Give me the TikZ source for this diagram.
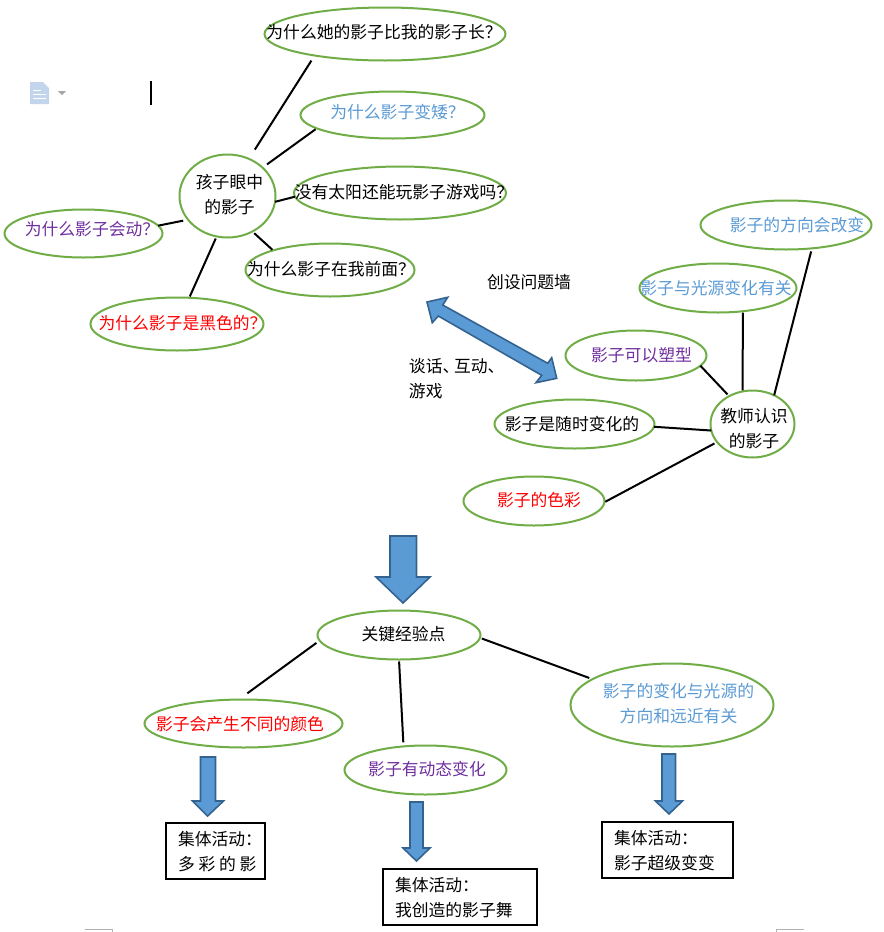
\documentclass[tikz,border=0pt]{standalone}
\usepackage{fontspec}
\setmainfont{Noto Sans CJK SC}
\usetikzlibrary{shapes.geometric}
\definecolor{ovalgreen}{HTML}{70AD47}
\definecolor{skyblue}{HTML}{5B9BD5}
\definecolor{arrowedge}{HTML}{35638F}
\definecolor{violetink}{HTML}{7030A0}
\definecolor{pure}{HTML}{FF0000}
\definecolor{iconblue}{HTML}{C3D5EC}
\tikzset{
  oval/.style={ellipse,draw=ovalgreen,line width=1.5pt,inner sep=0pt,outer sep=0pt},
  actbox/.style={rectangle,draw=black,line width=1.5pt,inner sep=0pt,outer sep=0pt},
  lbl/.style={font=\fontsize{12.6pt}{18.75pt}\selectfont,inner sep=0pt},
  lnk/.style={draw=black,line width=1.5pt},
  blockarrow/.style={fill=skyblue,draw=arrowedge,line width=1.2pt,line join=miter}
}
% name, cx, cy, w, h, text x, text y, colour, text
\newcommand\ovalnode[9]{\node[oval,minimum width=(#4-1)*0.75pt,minimum height=(#5-1)*0.75pt,
  label={[lbl,align=center,text=#8,xshift=(#6-#2)*0.75pt,yshift=(#3-#7)*0.75pt]center:{#9}}] (#1) at (#2,#3) {};}
\newcommand\boxnode[8]{\node[actbox,minimum width=(#4-2)*0.75pt,minimum height=(#5-2)*0.75pt,
  label={[lbl,align=left,xshift=(#6-#2)*0.75pt,yshift=(#3-#7)*0.75pt]center:{#8}}] (#1) at (#2,#3) {};}
\newcommand\lnkdraw[4]{\draw[lnk,shorten <=#2*0.75pt,shorten >=#4*0.75pt] (#1) -- (#3);}
% shaft left, shaft right, top, head base, head left, head right, tip x, tip y
\newcommand\blockdown[8]{\draw[blockarrow] (#1,#3) -- (#2,#3) -- (#2,#4) -- (#6,#4) -- (#7,#8) -- (#5,#4) -- (#1,#4) -- cycle;}
\begin{document}
\begin{tikzpicture}[x=0.75pt,y=-0.75pt]
\useasboundingbox (0,0) rectangle (884,932);
\fill[white] (0,0) rectangle (884,932);

% stray page furniture
\fill[iconblue] (30,82) -- (43,82) -- (49,88) -- (49,104) -- (30,104) -- cycle;
\draw[white,line width=0.7pt] (33,90) -- (41,90) (33,94) -- (46,94) (33,98) -- (46,98);
\fill[black!35] (58,91) -- (66,91) -- (62,95) -- cycle;
\draw[black,line width=1.2pt] (151,81) -- (151,105);
\draw[black!30,line width=0.7pt] (85,929) -- (112,929) -- (112,932);
\draw[black!30,line width=0.7pt] (776,932) -- (776,929) -- (804,929);

% children's view
\ovalnode{c1}{227.5}{196}{97}{84}{229.5}{194.5}{black}{孩子眼中\\的影子}
\ovalnode{e1}{385}{34}{242}{54}{384}{32}{black}{为什么她的影子比我的影子长？}
\ovalnode{e2}{392.5}{115}{185}{48}{397.5}{112}{skyblue}{为什么影子变矮？}
\ovalnode{e3}{400}{193}{213}{54}{404}{192}{black}{没有太阳还能玩影子游戏吗？}
\ovalnode{e4}{83.5}{233.5}{159}{49}{92}{229}{violetink}{为什么影子会动？}
\ovalnode{e5}{330}{270}{170}{54}{331}{269}{black}{为什么影子在我前面？}
\ovalnode{e6}{177}{324}{174}{54}{182.5}{323}{pure}{为什么影子是黑色的？}

\lnkdraw{c1.60.4}{11}{e1.197.8}{6}
\lnkdraw{c1.39.5}{5.5}{e2.190.6}{1.5}
\lnkdraw{c1.-7}{0}{e3.182}{0}
\lnkdraw{c1.211.4}{5}{e4.6.5}{0}
\lnkdraw{c1.-55.8}{2.5}{e5.161.7}{1}
\lnkdraw{c1.255.5}{2.3}{e6.65}{1.4}

% teacher's view
\ovalnode{c2}{752.5}{424}{85}{68}{754}{429}{black}{教师认识\\的影子}
\ovalnode{e7}{786}{225}{172}{50}{797}{225}{skyblue}{影子的方向会改变}
\ovalnode{e8}{718}{288}{158}{50}{716}{288}{skyblue}{影子与光源变化有关}
\ovalnode{e9}{636}{355.5}{142}{51}{641.5}{355}{violetink}{影子可以塑型}
\ovalnode{e10}{574.5}{424}{161}{50}{572}{424}{black}{影子是随时变化的}
\ovalnode{e11}{534}{501}{142}{50}{539}{500}{pure}{影子的色彩}

\lnkdraw{c2.107.7}{1}{e8.-43.5}{1.3}
\lnkdraw{c2.53.4}{0}{e7.-42.8}{3.2}
\lnkdraw{c2.130.2}{2.5}{e9.-9.2}{0}
\lnkdraw{c2.189.4}{0}{e10.-2.1}{0}
\lnkdraw{c2.207.4}{3}{e11.-1}{1}

% double arrow and its captions
\draw[blockarrow] (427,302) -- (447.7,297.3) -- (442.7,305) -- (547.7,363.3) -- (551.7,357.7)
  -- (556.7,378.3) -- (536,382.7) -- (541.7,375.3) -- (438.3,316) -- (432.3,322.7) -- cycle;
\node[lbl] (wall) at (529,282) {创设问题墙};
\node[lbl,align=left] (talk) at (456.7,378.5) {谈话、\kern-4pt 互动、\\游戏};

% key experience
\blockdown{390}{416.5}{536}{577}{376}{430}{403}{603}
\ovalnode{key}{399}{635}{164}{50}{403.5}{634}{black}{关键经验点}
\ovalnode{e12}{243.5}{723.5}{199}{49}{240}{724}{pure}{影子会产生不同的颜色}
\ovalnode{e13}{425.5}{770}{163}{50}{427}{769}{violetink}{影子有动态变化}
\ovalnode{e14}{672}{705}{204}{84}{678.5}{703.5}{skyblue}{影子的变化与光源的\\方向和远近有关}

\lnkdraw{key.184.9}{4}{e12.101.8}{10.5}
\lnkdraw{key.270}{2}{e13.133.2}{4}
\lnkdraw{key.-2}{2}{e14.162.3}{3.5}

% activities
\blockdown{200.5}{215.5}{757}{801}{192.5}{223.5}{207.6}{816}
\blockdown{410}{423}{802}{848}{403}{430}{416.5}{861}
\blockdown{662}{675.5}{754}{801}{655.5}{682.5}{669}{814}
\boxnode{b1}{215}{850.5}{101}{58}{220}{851.5}{集体活动：\\多 彩 的 影}
\boxnode{b2}{459.5}{896.5}{156}{58}{453.8}{898}{集体活动：\\我创造的影子舞}
\boxnode{b3}{667}{849.5}{133}{58}{664.4}{850.5}{集体活动：\\影子超级变变}
\end{tikzpicture}
\end{document}
